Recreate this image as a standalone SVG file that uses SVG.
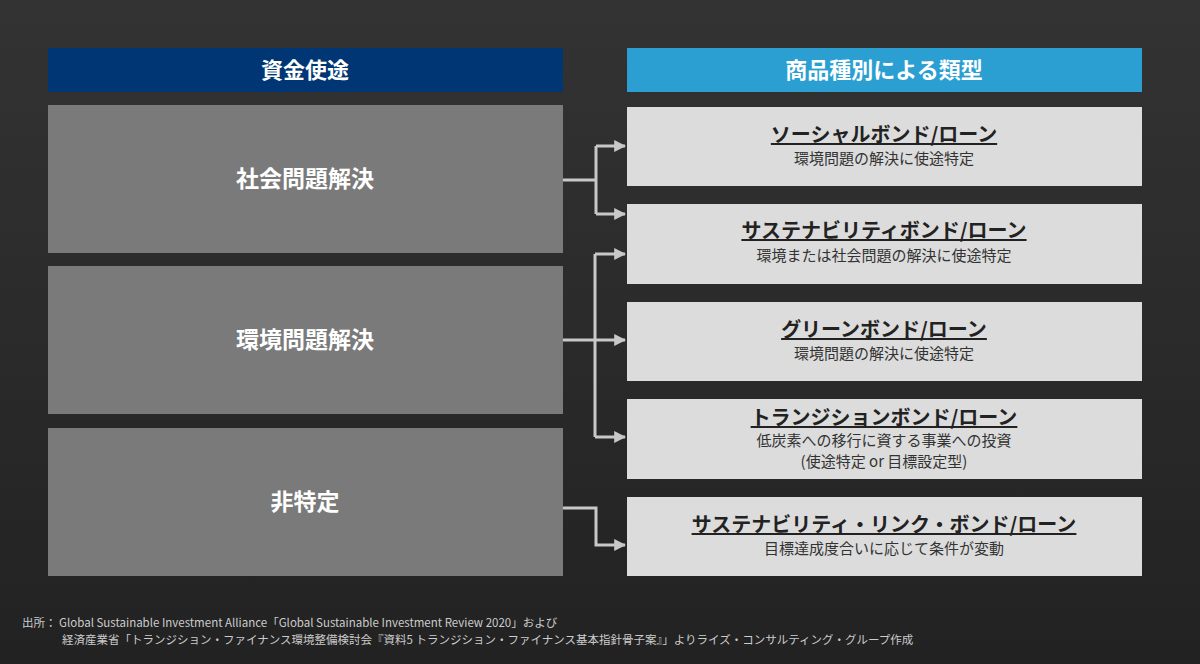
<svg xmlns="http://www.w3.org/2000/svg" width="1200" height="664" viewBox="0 0 1200 664">
<defs>
<linearGradient id="bg" x1="0" y1="0" x2="0" y2="1"><stop offset="0" stop-color="#333"/><stop offset="1" stop-color="#222"/></linearGradient>
<marker id="ah" viewBox="0 0 10 10" refX="9" refY="5" markerWidth="4" markerHeight="4" orient="auto" markerUnits="strokeWidth"><path d="M0,0 L10,5 L0,10 z" fill="#c8c8c8"/></marker>
<style>
text{font-family:"Noto Sans CJK JP","Noto Sans",sans-serif}
.hd{fill:#fff;font-size:22px;font-weight:bold;text-anchor:middle}
.lb{fill:#7a7a7a}
.lt{fill:#fff;font-size:23px;font-weight:bold;text-anchor:middle}
.rb{fill:#dcdcdc}
.rt{fill:#222;font-size:20px;font-weight:bold;text-anchor:middle;text-decoration:underline}
.rs{fill:#333;font-size:15px;text-anchor:middle}
.c{fill:none;stroke:#c8c8c8;stroke-width:3}
.fn{fill:#ccc;font-size:11.5px}
</style>
</defs>
<rect width="1200" height="664" fill="url(#bg)"/>
<g id="h1"><rect x="48" y="48" width="515" height="44" fill="#003674"/><text class="hd" x="305" y="78">資金使途</text></g>
<g id="h2"><rect x="627" y="48" width="515" height="44" fill="#2b9fd2"/><text class="hd" x="884" y="78">商品種別による類型</text></g>
<g id="l1"><rect class="lb" x="48" y="105" width="515" height="148"/><text class="lt" x="305" y="187">社会問題解決</text></g>
<g id="l2"><rect class="lb" x="48" y="266" width="515" height="148"/><text class="lt" x="305" y="348">環境問題解決</text></g>
<g id="l3"><rect class="lb" x="48" y="428" width="515" height="148"/><text class="lt" x="305" y="510">非特定</text></g>
<g id="r1"><rect class="rb" x="627" y="107" width="515" height="79"/><text class="rt" x="884" y="142">ソーシャルボンド/ローン</text><text class="rs" x="884" y="164">環境問題の解決に使途特定</text></g>
<g id="r2"><rect class="rb" x="627" y="204" width="515" height="80"/><text class="rt" x="884" y="238">サステナビリティボンド/ローン</text><text class="rs" x="884" y="261">環境または社会問題の解決に使途特定</text></g>
<g id="r3"><rect class="rb" x="627" y="302" width="515" height="79"/><text class="rt" x="884" y="337">グリーンボンド/ローン</text><text class="rs" x="884" y="359">環境問題の解決に使途特定</text></g>
<g id="r4"><rect class="rb" x="627" y="399" width="515" height="80"/><text class="rt" x="884" y="425">トランジションボンド/ローン</text><text class="rs" x="884" y="446">低炭素への移行に資する事業への投資</text><text class="rs" x="884" y="467">(使途特定 or 目標設定型)</text></g>
<g id="r5"><rect class="rb" x="627" y="497" width="515" height="79"/><text class="rt" x="884" y="532">サステナビリティ・リンク・ボンド/ローン</text><text class="rs" x="884" y="554">目標達成度合いに応じて条件が変動</text></g>
<g id="connectors">
<path class="c" d="M563,180 H596 M596,146 V214"/>
<path class="c" d="M596,146 H625" marker-end="url(#ah)"/>
<path class="c" d="M596,214 H625" marker-end="url(#ah)"/>
<path class="c" d="M563,340 H596 M595,254 V437"/>
<path class="c" d="M595,254 H625" marker-end="url(#ah)"/>
<path class="c" d="M596,340 H625" marker-end="url(#ah)"/>
<path class="c" d="M595,437 H625" marker-end="url(#ah)"/>
<path class="c" d="M563,508 H596 V545 H625" marker-end="url(#ah)"/>
</g>
<text class="fn" x="22" y="627">出所： Global Sustainable Investment Alliance「Global Sustainable Investment Review 2020」および</text>
<text class="fn" x="62" y="644">経済産業省「トランジション・ファイナンス環境整備検討会『資料5 トランジション・ファイナンス基本指針骨子案』」よりライズ・コンサルティング・グループ作成</text>
</svg>
